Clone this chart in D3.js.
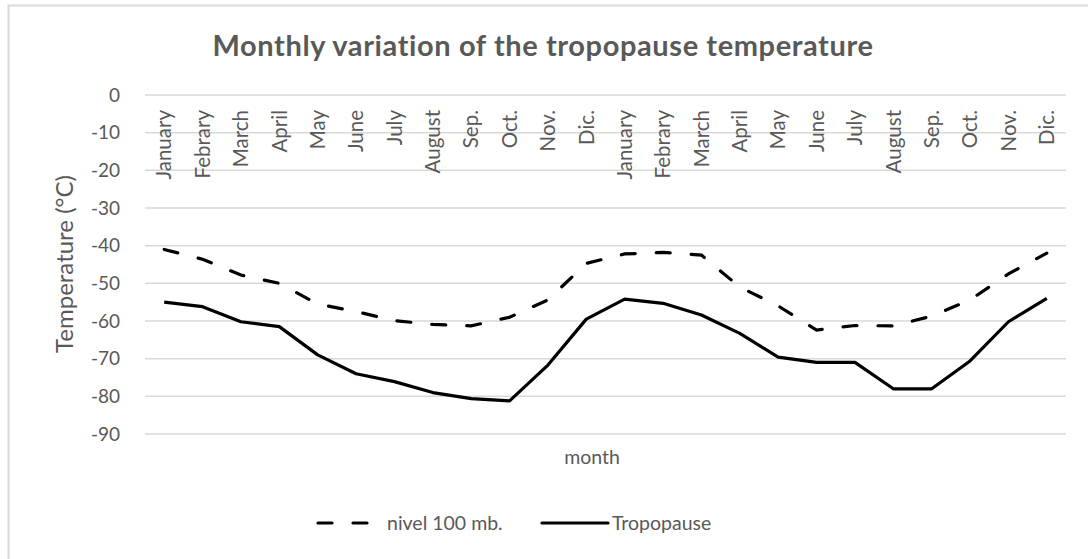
<!DOCTYPE html>
<html>
<head>
<meta charset="utf-8">
<script src="https://cdn.jsdelivr.net/npm/d3@7"></script>
<style>
  body { margin: 0; background: #fff; }
  text { font-family: Lato, "Liberation Sans", sans-serif; fill: #595959; }
</style>
</head>
<body>
<svg id="chart" width="1088" height="559"></svg>
<script>
// month labels (two years in a row)
const months = ['January', 'Febrary', 'March', 'April', 'May', 'June', 'July', 'August', 'Sep.', 'Oct.', 'Nov.', 'Dic.',
                'January', 'Febrary', 'March', 'April', 'May', 'June', 'July', 'August', 'Sep.', 'Oct.', 'Nov.', 'Dic.'];

// nivel 100 mb. (dashed)
const level100 = [-41, -43.6, -47.8, -50, -55.5, -57.5, -59.9, -60.9, -61.3, -59, -54.4, -44.7,
                  -42.2, -41.8, -42.5, -51, -56, -62.4, -61.2, -61.3, -58.7, -54.4, -47.5, -42];

// Tropopause (solid)
const tropopause = [-55, -56.2, -60.2, -61.5, -69, -74, -76.1, -79, -80.6, -81.2, -71.7, -59.5,
                    -54.2, -55.3, -58.4, -63.3, -69.6, -71, -71, -78, -78, -70.6, -60.2, -54];

const yTicks = [0, -10, -20, -30, -40, -50, -60, -70, -80, -90];

const svg = d3.select('#chart');

// outer chart border
svg.append('rect')
    .attr('x', 8.5).attr('y', 5.5)
    .attr('width', 1100).attr('height', 600)
    .attr('fill', 'none')
    .attr('stroke', '#d9d9d9')
    .attr('stroke-width', 2);

const plotLeft = 145, plotRight = 1066, plotTop = 95, plotBottom = 434;

const x = d3.scaleBand()
    .domain(d3.range(months.length))
    .range([plotLeft, plotRight]);

const y = d3.scaleLinear()
    .domain([-90, 0])
    .range([plotBottom, plotTop]);

// gridlines
svg.append('g')
    .selectAll('line')
    .data(yTicks)
    .join('line')
    .attr('x1', plotLeft).attr('x2', plotRight)
    .attr('y1', d => y(d)).attr('y2', d => y(d))
    .attr('stroke', '#d9d9d9')
    .attr('stroke-width', 1.5);

// y axis (plain hyphen for negatives, like the original)
const yAxis = d3.axisLeft(y).tickValues(yTicks).tickSize(0).tickPadding(25)
    .tickFormat(d => String(d));
const yAxisGroup = svg.append('g')
    .attr('transform', `translate(${plotLeft}, 0)`)
    .call(yAxis);
yAxisGroup.select('.domain').remove();
yAxisGroup.selectAll('text')
    .attr('font-size', 19)
    .attr('fill', '#595959')
    .attr('font-family', 'Lato, sans-serif');

// x axis (labels hang below the 0 line)
const xAxis = d3.axisBottom(x).tickFormat(i => months[i]).tickSize(0);
const xAxisGroup = svg.append('g')
    .attr('transform', `translate(0, ${plotTop})`)
    .call(xAxis);
xAxisGroup.select('.domain').remove();
xAxisGroup.selectAll('text')
    .attr('font-size', 20.5)
    .attr('fill', '#595959')
    .attr('font-family', 'Lato, sans-serif')
    .attr('text-anchor', 'end')
    .attr('dy', '0.35em')
    .attr('transform', 'translate(0, 15) rotate(-90)')
    .attr('y', 0)
    .attr('x', 0);

// lines
const line = data => d3.line()
    .x((d, i) => x(i) + x.bandwidth() / 2)
    .y(d => y(d))(data);

svg.append('path')
    .attr('d', line(level100))
    .attr('fill', 'none')
    .attr('stroke', '#000')
    .attr('stroke-width', 3.2)
    .attr('stroke-linecap', 'round')
    .attr('stroke-dasharray', '14,21');

svg.append('path')
    .attr('d', line(tropopause))
    .attr('fill', 'none')
    .attr('stroke', '#000')
    .attr('stroke-width', 3.2)
    .attr('stroke-linejoin', 'round');

// title
svg.append('text')
    .attr('x', 543).attr('y', 56)
    .attr('text-anchor', 'middle')
    .attr('font-size', 29)
    .attr('letter-spacing', 0.6)
    .attr('font-weight', 'bold')
    .text('Monthly variation of the tropopause temperature');

// axis titles
svg.append('text')
    .attr('transform', 'translate(73, 264) rotate(-90)')
    .attr('text-anchor', 'middle')
    .attr('font-size', 24)
    .text('Temperature (°C)');

svg.append('text')
    .attr('x', 592).attr('y', 464)
    .attr('text-anchor', 'middle')
    .attr('font-size', 19.5)
    .text('month');

// legend
const legend = svg.append('g');
legend.append('line')
    .attr('x1', 318).attr('x2', 367).attr('y1', 523).attr('y2', 523)
    .attr('stroke', '#000').attr('stroke-width', 3.2)
    .attr('stroke-linecap', 'round')
    .attr('stroke-dasharray', '14,21');
legend.append('text')
    .attr('x', 387).attr('y', 530)
    .attr('font-size', 19.5)
    .text('nivel 100 mb.');
legend.append('line')
    .attr('x1', 542).attr('x2', 608).attr('y1', 523).attr('y2', 523)
    .attr('stroke', '#000').attr('stroke-width', 3.2)
    .attr('stroke-linecap', 'round');
legend.append('text')
    .attr('x', 612).attr('y', 530)
    .attr('font-size', 19.5)
    .text('Tropopause');
</script>
</body>
</html>
